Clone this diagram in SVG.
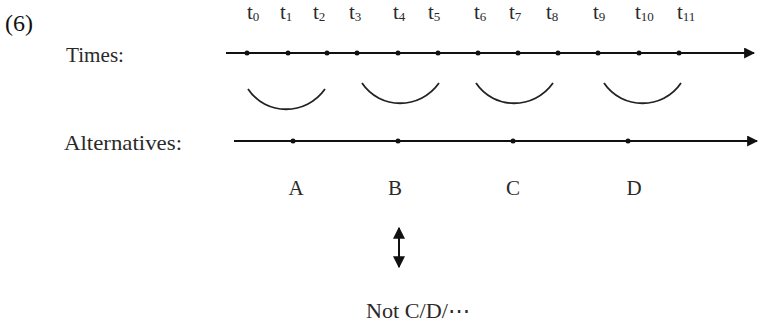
<svg xmlns="http://www.w3.org/2000/svg" width="758" height="328" viewBox="0 0 758 328">
<defs>
<marker id="ah" viewBox="0 0 10 10" refX="9" refY="5" markerWidth="11" markerHeight="11" markerUnits="userSpaceOnUse" orient="auto">
<path d="M0,0 L10,5 L0,10 z" fill="#111"/>
</marker>
<marker id="ah2" viewBox="0 0 10 10" refX="9" refY="5" markerWidth="12" markerHeight="12" markerUnits="userSpaceOnUse" orient="auto-start-reverse">
<path d="M0,0 L10,5 L0,10 z" fill="#111"/>
</marker>
</defs>
<style>
text{font-family:"Liberation Serif","DejaVu Serif",serif;fill:#2a2a2a}
.lbl{font-size:21px}
.t{font-size:21px}
.s{font-size:13px}
.L{font-size:21px;text-anchor:middle}
.line{stroke:#111;stroke-width:2;fill:none}
.arc{stroke:#222;stroke-width:1.8;fill:none}
.dot{fill:#111}
</style>
<rect width="758" height="328" fill="#fff"/>
<text x="5" y="31" style="font-size:24px;fill:#111">(6)</text>
<text class="lbl" x="66" y="62" textLength="58" lengthAdjust="spacingAndGlyphs">Times:</text>
<text class="lbl" x="64" y="150" textLength="118" lengthAdjust="spacingAndGlyphs">Alternatives:</text>
<g id="tlabels">
<text class="t" x="247" y="19">t<tspan class="s" dy="2">0</tspan></text>
<text class="t" x="280" y="19">t<tspan class="s" dy="2">1</tspan></text>
<text class="t" x="313" y="19">t<tspan class="s" dy="2">2</tspan></text>
<text class="t" x="349" y="19">t<tspan class="s" dy="2">3</tspan></text>
<text class="t" x="393" y="19">t<tspan class="s" dy="2">4</tspan></text>
<text class="t" x="428" y="19">t<tspan class="s" dy="2">5</tspan></text>
<text class="t" x="474" y="19">t<tspan class="s" dy="2">6</tspan></text>
<text class="t" x="509" y="19">t<tspan class="s" dy="2">7</tspan></text>
<text class="t" x="546" y="19">t<tspan class="s" dy="2">8</tspan></text>
<text class="t" x="593" y="19">t<tspan class="s" dy="2">9</tspan></text>
<text class="t" x="635" y="19">t<tspan class="s" dy="2">10</tspan></text>
<text class="t" x="677" y="19">t<tspan class="s" dy="2">11</tspan></text>
</g>
<g id="connectors">
<line class="line" x1="226" y1="53" x2="754" y2="53" marker-end="url(#ah)"/>
<line class="line" x1="234" y1="141" x2="757" y2="141" marker-end="url(#ah)"/>
<line class="line" x1="399" y1="228" x2="399" y2="267" marker-start="url(#ah2)" marker-end="url(#ah2)"/>
</g>
<g id="timedots">
<circle class="dot" cx="247" cy="53" r="2.5"/>
<circle class="dot" cx="288" cy="53" r="2.5"/>
<circle class="dot" cx="327" cy="53" r="2.5"/>
<circle class="dot" cx="357" cy="53" r="2.5"/>
<circle class="dot" cx="398" cy="53" r="2.5"/>
<circle class="dot" cx="438" cy="53" r="2.5"/>
<circle class="dot" cx="478" cy="53" r="2.5"/>
<circle class="dot" cx="518" cy="53" r="2.5"/>
<circle class="dot" cx="558" cy="53" r="2.5"/>
<circle class="dot" cx="598" cy="53" r="2.5"/>
<circle class="dot" cx="639" cy="53" r="2.5"/>
<circle class="dot" cx="679" cy="53" r="2.5"/>
</g>
<g id="arcs">
<path class="arc" d="M248,89 C266,116 306,116 325,89"/>
<path class="arc" d="M362,83 C380,110 420,110 439,83"/>
<path class="arc" d="M476,83 C494,110 534,110 553,83"/>
<path class="arc" d="M604,83 C622,110 663,110 681,83"/>
</g>
<g id="A"><circle class="dot" cx="293" cy="141" r="2.5"/><text class="L" x="296" y="195">A</text></g>
<g id="B"><circle class="dot" cx="398" cy="141" r="2.5"/><text class="L" x="395" y="195">B</text></g>
<g id="C"><circle class="dot" cx="513" cy="141" r="2.5"/><text class="L" x="513" y="195">C</text></g>
<g id="D"><circle class="dot" cx="628" cy="141" r="2.5"/><text class="L" x="634" y="195">D</text></g>
<text class="lbl" x="366" y="318" textLength="104" lengthAdjust="spacingAndGlyphs">Not  C/D/⋯</text>
</svg>
